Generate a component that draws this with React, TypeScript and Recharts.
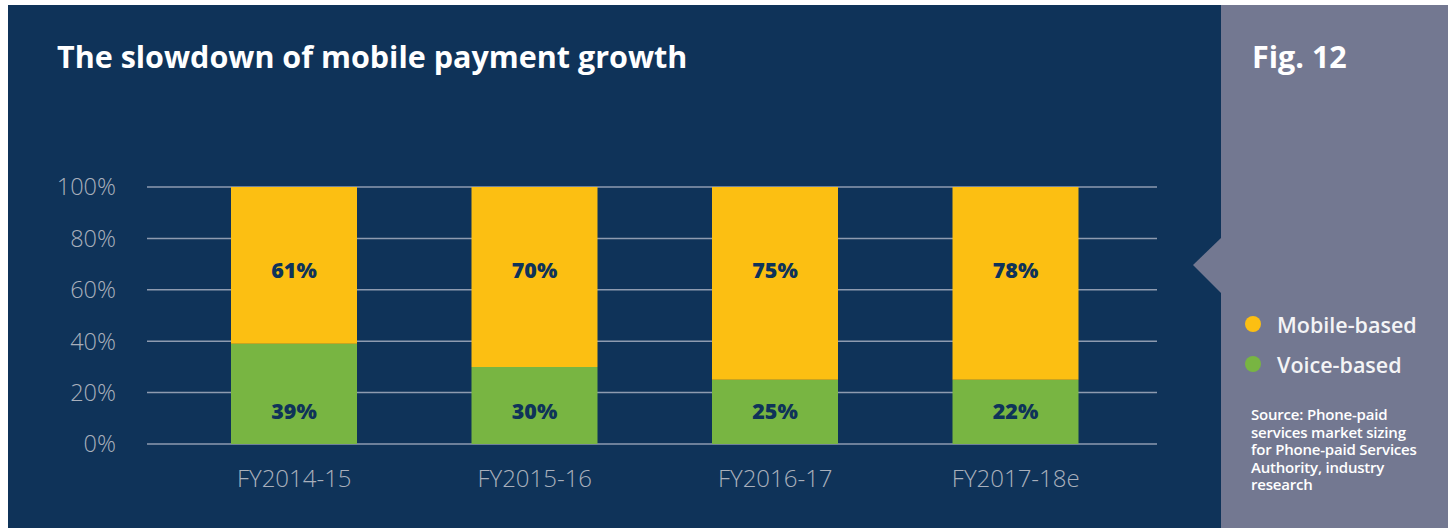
import React from 'react';
import { BarChart, Bar, XAxis, YAxis, CartesianGrid, LabelList } from 'recharts';

// values as drawn in the figure (bar heights), plus the printed labels
const years = ['FY2014-15', 'FY2015-16', 'FY2016-17', 'FY2017-18e'];
const voice = [39, 30, 25, 25];
const mobile = [61, 70, 75, 75];
const voiceLabels = ['39%', '30%', '25%', '22%'];
const mobileLabels = ['61%', '70%', '75%', '78%'];
const yTicks = [0, 20, 40, 60, 80, 100];
const legendNames = ['Mobile-based', 'Voice-based'];
const sourceLines = [
  'Source: Phone-paid',
  'services market sizing',
  'for Phone-paid Services',
  'Authority, industry',
  'research',
];

const NAVY = '#0f3359';
const PANEL = '#737891';
const YELLOW = '#fcbf12';
const GREEN = '#78b542';
const TICK = '#a9b0bc';
const FONT = '"Open Sans", sans-serif';

const data = years.map((year, i) => ({
  year,
  voice: voice[i],
  mobile: mobile[i],
  voiceLabel: voiceLabels[i],
  mobileLabel: mobileLabels[i],
}));

// labels sit at a fixed spot near the top / bottom of each column
function TopLabel(props: any) {
  const { x, y, width, value } = props;
  return (
    <text x={x + width / 2} y={y + 82} textAnchor="middle" dominantBaseline="central"
      fill={NAVY} fontFamily={FONT} fontWeight={800} fontSize={21.5}>
      {value}
    </text>
  );
}

function BottomLabel(props: any) {
  const { x, y, width, height, value } = props;
  return (
    <text x={x + width / 2} y={y + height - 34} textAnchor="middle" dominantBaseline="central"
      fill={NAVY} fontFamily={FONT} fontWeight={800} fontSize={21.5}>
      {value}
    </text>
  );
}

export default function App() {
  const legendColors = [YELLOW, GREEN];
  return (
    <div style={{ position: 'fixed', left: 0, top: 0, width: 1454, height: 528, background: '#fff', overflow: 'hidden' }}>
      <div style={{ position: 'absolute', left: 8, top: 5, width: 1213, height: 523, background: NAVY }} />
      <div style={{ position: 'absolute', left: 1221, top: 5, width: 227, height: 523, background: PANEL }} />
      <svg style={{ position: 'absolute', left: 1190, top: 236 }} width={32} height={60}>
        <polygon points="31,2 3,29 31,57" fill={PANEL} />
      </svg>
      <div style={{ position: 'absolute', left: 57, top: 35, color: '#fff', fontFamily: FONT, fontWeight: 700, fontSize: 30.5, whiteSpace: 'nowrap' }}>
        The slowdown of mobile payment growth
      </div>
      <div style={{ position: 'absolute', left: 1252, top: 35, color: '#fff', fontFamily: FONT, fontWeight: 700, fontSize: 30.5 }}>
        Fig. 12
      </div>
      <div style={{ position: 'absolute', left: 1245, top: 304, fontFamily: FONT }}>
        {legendNames.map((name, i) => (
          <div key={name} style={{ display: 'flex', alignItems: 'center', height: 40 }}>
            <span style={{ width: 16, height: 16, borderRadius: 8, background: legendColors[i], marginRight: 16 }} />
            <span style={{ color: '#f4f4f6', fontSize: 21.5, fontWeight: 600 }}>{name}</span>
          </div>
        ))}
      </div>
      <div style={{ position: 'absolute', left: 1251, top: 406, color: '#fff', fontFamily: FONT, fontWeight: 600, fontSize: 15, letterSpacing: '-0.2px', lineHeight: '17.5px', whiteSpace: 'nowrap' }}>
        {sourceLines.map(line => <div key={line}>{line}</div>)}
      </div>
      <div style={{ position: 'absolute', left: 0, top: 0 }}>
        <BarChart width={1454} height={528} data={data}
          margin={{ top: 187, right: 297, bottom: 24, left: 47 }} barSize={126}>
          <CartesianGrid vertical={false} stroke="#8e9bb0" strokeWidth={1.5} />
          <XAxis dataKey="year" axisLine={false} tickLine={false} height={60}
            padding={{ left: 27, right: 21 }} tickMargin={20}
            tick={{ fill: TICK, fontSize: 24, fontFamily: FONT, fontWeight: 300 }} />
          <YAxis domain={[0, 100]} ticks={yTicks} width={100} axisLine={false} tickLine={false}
            tickSize={0} tickMargin={31} tickFormatter={(v: number) => `${v}%`}
            tick={{ fill: TICK, fontSize: 23.5, fontFamily: FONT, fontWeight: 300 }} />
          <Bar dataKey="voice" name="Voice-based" stackId="a" fill={GREEN} isAnimationActive={false}>
            <LabelList dataKey="voiceLabel" content={<BottomLabel />} />
          </Bar>
          <Bar dataKey="mobile" name="Mobile-based" stackId="a" fill={YELLOW} isAnimationActive={false}>
            <LabelList dataKey="mobileLabel" content={<TopLabel />} />
          </Bar>
        </BarChart>
      </div>
    </div>
  );
}
